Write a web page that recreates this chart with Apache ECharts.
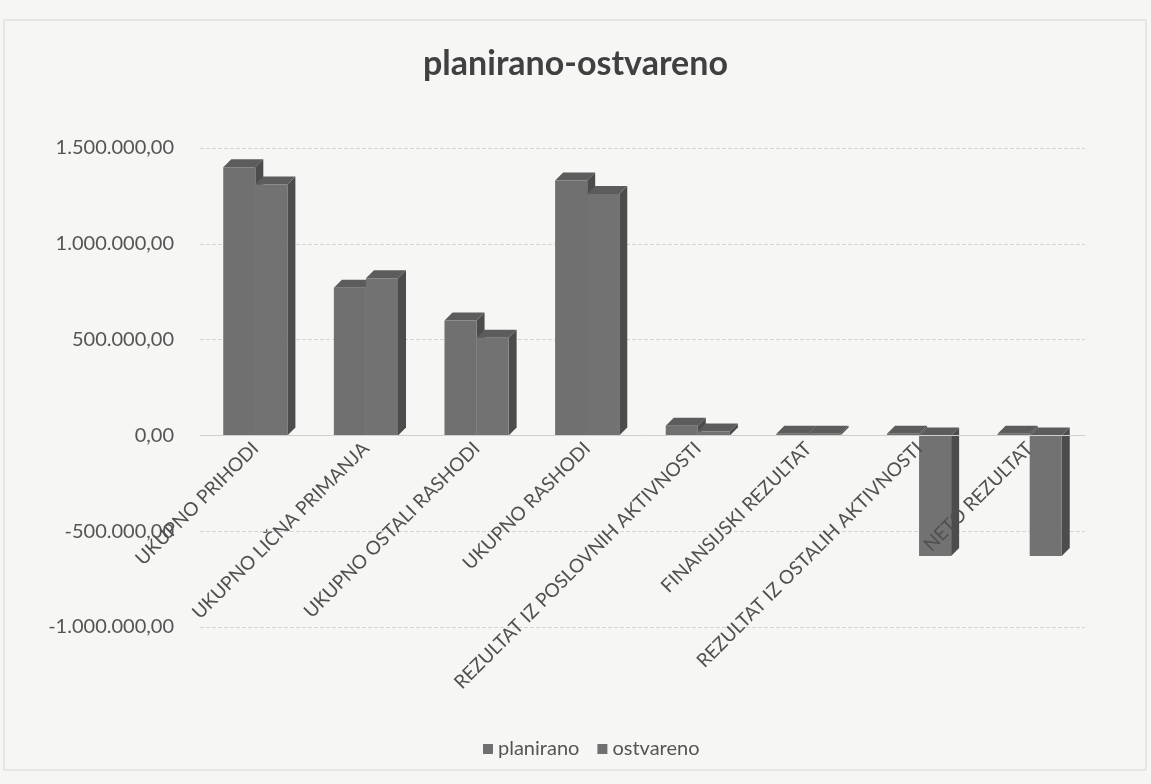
<!DOCTYPE html>
<html>
<head>
<meta charset="utf-8">
<title>planirano-ostvareno</title>
<script src="https://cdn.jsdelivr.net/npm/echarts@6/dist/echarts.min.js"></script>
<style>
  html, body { margin: 0; padding: 0; background: #f6f6f4; }
  #chart { width: 1151px; height: 784px; }
</style>
</head>
<body>
<div id="chart"></div>
<script>
// podaci
const categories = [
  "UKUPNO PRIHODI",
  "UKUPNO LIČNA PRIMANJA",
  "UKUPNO OSTALI RASHODI",
  "UKUPNO RASHODI",
  "REZULTAT IZ POSLOVNIH AKTIVNOSTI",
  "FINANSIJSKI REZULTAT",
  "REZULTAT IZ OSTALIH AKTIVNOSTI",
  "NETO REZULTAT"
];
const planirano = [1400000, 770000, 600000, 1330000, 50000, 8000, 8000, 8000];
const ostvareno = [1310000, 820000, 510000, 1260000, 20000, 8000, -630000, -630000];
const yTicks = { min: -1000000, max: 1500000, step: 500000 };

// 1.500.000,00
function fmt(v) {
  const s = String(Math.abs(v)).replace(/\B(?=(\d{3})+(?!\d))/g, ".");
  return (v < 0 ? "-" : "") + s + ",00";
}

// kvadar: prednja strana, bok i vrh
function makeBar(shift, face, side, top) {
  return function (params, api) {
    const idx = api.value(0);
    const val = api.value(1);
    const band = api.size([1, 0])[0];
    const w = band * 0.29;
    const d = 8;
    const p0 = api.coord([idx, 0]);
    const p1 = api.coord([idx, val]);
    const x0 = p0[0] + shift * w - w;
    const x1 = x0 + w;
    const yTop = Math.min(p0[1], p1[1]);
    const yBot = Math.max(p0[1], p1[1]);
    return {
      type: "group",
      children: [
        { type: "polygon", shape: { points: [[x1, yTop], [x1 + d, yTop - d], [x1 + d, yBot - d], [x1, yBot]] },
          style: { fill: side } },
        { type: "polygon", shape: { points: [[x0, yTop], [x0 + d, yTop - d], [x1 + d, yTop - d], [x1, yTop]] },
          style: { fill: top } },
        { type: "rect", shape: { x: x0, y: yTop, width: w, height: Math.max(yBot - yTop, 0.5) },
          style: { fill: face } }
      ]
    };
  };
}

const gridTop = 148, gridBottom = 157;
const zeroOffset = (784 - gridTop - gridBottom) * (-yTicks.min) / (yTicks.max - yTicks.min);

const chart = echarts.init(document.getElementById("chart"));
chart.setOption({
  backgroundColor: "#f6f6f4",
  animation: false,
  title: {
    text: "planirano-ostvareno",
    left: "center",
    top: 42,
    textStyle: { fontFamily: "Lato", fontSize: 34, fontWeight: "bold", color: "#404040" }
  },
  legend: {
    top: 734,
    left: 478,
    icon: "rect",
    itemWidth: 10,
    itemHeight: 10,
    itemGap: 18,
    textStyle: { fontFamily: "Lato", fontSize: 20, color: "#555" },
    data: ["planirano", "ostvareno"]
  },
  graphic: [{
    type: "rect",
    shape: { x: 4, y: 20, width: 1142, height: 750 },
    style: { fill: "none", stroke: "#d6d6d6", lineWidth: 1 }
  }],
  grid: { left: 200, right: 66, top: gridTop, bottom: gridBottom, containLabel: false, outerBoundsMode: "none" },
  xAxis: {
    type: "category",
    data: categories,
    offset: -zeroOffset,
    z: 10,
    axisLine: { show: true, onZero: false, lineStyle: { color: "#cfcfcf" } },
    axisTick: { show: false },
    axisLabel: {
      interval: 0,
      rotate: 45,
      margin: 10,
      fontFamily: "Lato",
      fontSize: 19,
      color: "#505050"
    }
  },
  yAxis: {
    type: "value",
    min: yTicks.min,
    max: yTicks.max,
    interval: yTicks.step,
    axisLine: { show: false },
    axisTick: { show: false },
    splitLine: { lineStyle: { color: "#d4d4d4", type: "dashed" } },
    axisLabel: {
      formatter: fmt,
      fontFamily: "Lato",
      fontSize: 20,
      color: "#555",
      margin: 26
    }
  },
  series: [
    {
      name: "planirano",
      type: "custom",
      itemStyle: { color: "#707070" },
      renderItem: makeBar(0, "#707070", "#4c4c4c", "#5c5c5c"),
      encode: { x: 0, y: 1 },
      data: planirano.map((v, i) => [i, v]),
      z: 2
    },
    {
      name: "ostvareno",
      type: "custom",
      itemStyle: { color: "#707070" },
      renderItem: makeBar(1, "#727272", "#4c4c4c", "#5c5c5c"),
      encode: { x: 0, y: 1 },
      data: ostvareno.map((v, i) => [i, v]),
      z: 3
    }
  ]
});
</script>
</body>
</html>
